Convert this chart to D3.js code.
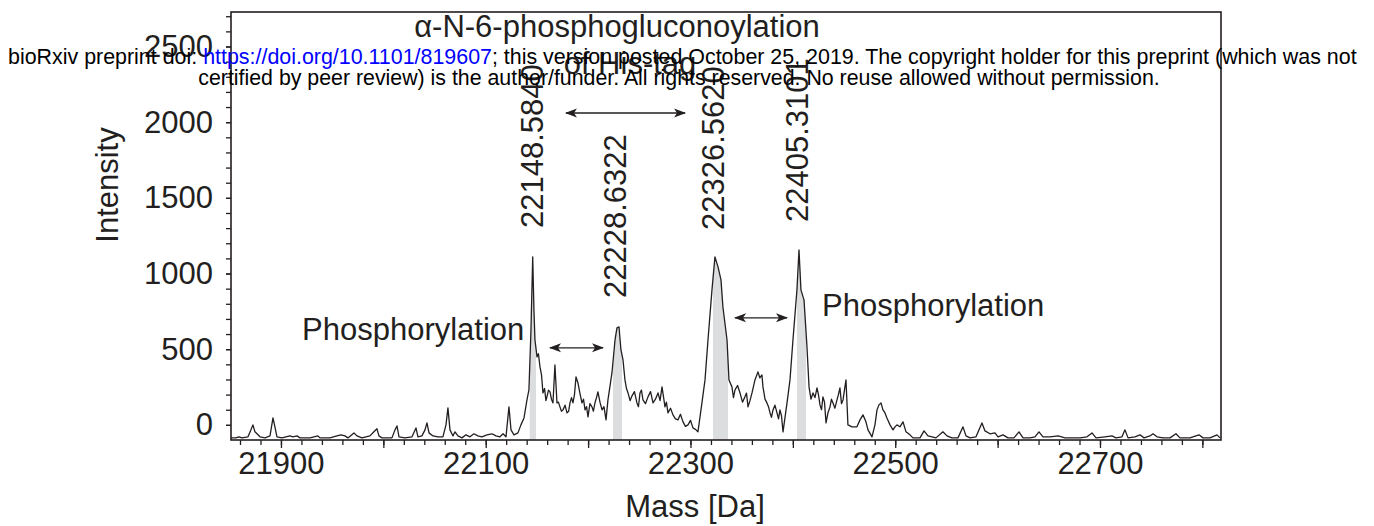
<!DOCTYPE html>
<html><head><meta charset="utf-8">
<script src="https://cdn.jsdelivr.net/npm/d3@7"></script>
<style>body{margin:0;background:#fff;} svg{display:block;font-family:"Liberation Sans",Arial,Helvetica,sans-serif;}</style>
</head><body><svg id="c" width="1374" height="526"></svg>
<script>
// ---- data ----
const massDa = [
21851.2,21856.0,21859.0,21861.9,21867.8,21870.7,21872.6,21874.6,21876.6,21879.5,
21884.4,21889.3,21892.2,21894.1,21896.1,21901.0,21908.8,21911.7,21915.6,21918.6,
21928.3,21936.1,21938.1,21947.9,21954.7,21958.6,21962.5,21965.4,21971.3,21974.2,
21979.1,21986.9,21990.8,21993.8,21995.7,21998.7,22008.4,22011.4,22013.3,22015.3,
22021.1,22028.0,22031.9,22033.8,22037.7,22040.7,22042.6,22044.6,22048.5,22053.4,
22058.2,22061.2,22063.1,22065.1,22068.0,22070.0,22072.9,22076.8,22080.7,22084.6,
22088.5,22092.4,22096.3,22101.2,22106.1,22110.0,22113.9,22116.9,22119.8,22122.7,
22124.7,22127.6,22131.5,22134.4,22137.4,22140.3,22142.2,22144.2,22145.9,22147.1,
22148.1,22150.1,22151.5,22153.0,22154.5,22155.9,22157.5,22158.8,22159.8,22161.3,
22162.8,22164.2,22165.7,22167.6,22169.6,22171.0,22172.5,22174.0,22175.5,22177.5,
22179.4,22181.0,22182.3,22183.8,22185.2,22186.7,22188.2,22190.1,22192.0,22194.0,
22195.5,22197.0,22198.5,22199.9,22201.8,22203.8,22205.2,22206.7,22208.2,22209.6,
22211.6,22213.6,22215.5,22217.5,22219.4,22223.3,22226.3,22228.2,22230.2,22232.1,
22234.1,22236.0,22237.5,22239.0,22241.0,22242.9,22245.3,22247.7,22249.2,22250.7,
22252.1,22253.6,22256.0,22258.5,22261.0,22263.4,22265.8,22268.3,22270.3,22272.2,
22275.1,22276.5,22278.0,22280.5,22282.9,22285.3,22287.8,22290.2,22292.7,22295.1,
22297.6,22300.0,22302.4,22304.9,22307.3,22311.2,22314.2,22317.1,22321.0,22323.9,
22326.9,22329.8,22331.7,22335.7,22337.6,22340.5,22342.0,22343.5,22346.0,22348.4,
22350.8,22353.2,22354.7,22356.2,22358.1,22360.1,22363.0,22365.9,22367.8,22369.8,
22370.8,22372.8,22374.7,22376.2,22377.7,22379.1,22380.6,22382.5,22384.5,22386.0,
22387.4,22388.9,22390.4,22394.3,22397.2,22400.1,22404.0,22406.0,22407.9,22410.9,
22413.8,22415.8,22417.7,22419.7,22421.6,22423.6,22425.0,22426.5,22428.0,22429.4,
22430.9,22432.4,22434.3,22436.3,22437.7,22439.2,22441.1,22443.1,22444.5,22446.0,
22447.5,22449.0,22450.4,22451.9,22453.8,22457.8,22462.6,22465.6,22468.5,22471.4,
22473.4,22477.3,22480.2,22482.2,22484.1,22486.1,22488.0,22490.0,22491.9,22494.9,
22497.8,22499.8,22501.7,22504.6,22507.6,22510.5,22514.4,22517.3,22524.2,22528.1,
22532.0,22535.9,22539.8,22546.6,22550.5,22555.4,22561.3,22566.2,22569.1,22573.0,
22578.9,22584.7,22587.7,22592.6,22597.4,22600.4,22605.3,22610.1,22616.0,22620.9,
22624.8,22631.6,22636.5,22640.4,22644.3,22651.2,22659.0,22665.8,22680.5,22687.3,
22692.2,22696.1,22704.9,22711.7,22715.6,22721.5,22724.4,22727.4,22734.2,22739.1,
22743.0,22748.8,22751.8,22755.7,22761.5,22768.4,22774.2,22778.1,22787.9,22796.7,
22800.6,22807.5,22814.3,22817.2];
const intensity = [
-86,-86,-79,-86,-79,-33,0,-46,-59,-79,
-86,-73,46,-13,-79,-86,-73,-79,-73,-86,
-86,-73,-86,-86,-73,-66,-73,-86,-53,-73,
-86,-73,-46,-26,-73,-86,-86,-33,-7,-79,
-86,-79,-20,-79,-73,-33,13,-53,-73,-79,
-79,0,112,-33,-73,-46,-73,-86,-66,-79,
-59,-73,-79,-66,-59,-73,-79,-59,-79,119,
-33,-66,-53,0,46,165,231,627,1110,760,
561,449,470,383,330,211,240,160,185,230,
218,170,145,396,145,150,119,90,99,130,
79,90,145,180,145,200,317,277,210,145,
170,99,120,53,140,119,90,145,180,218,
150,99,120,33,165,343,561,641,647,495,
429,297,240,211,160,192,220,145,120,211,
230,165,140,185,220,145,170,211,160,251,
119,150,79,110,66,40,33,70,20,-10,
0,30,-20,-30,-46,145,297,561,892,1110,
1044,958,779,561,297,251,180,231,260,211,
150,185,210,119,160,211,297,350,310,330,
251,170,145,120,79,50,99,130,79,40,
99,60,-46,145,297,561,892,1156,892,826,
515,251,170,211,180,244,200,132,100,185,
150,13,80,119,170,145,110,165,200,244,
140,165,230,297,0,-13,-13,33,66,20,
-33,-79,0,99,132,145,99,79,46,0,
-33,-13,0,-13,20,-46,-66,-86,-86,-40,
-73,-79,-86,-46,-73,-86,-86,-13,-73,-86,
-79,13,-40,-59,-53,-79,-66,-86,-86,-46,
-86,-86,-79,-46,-79,-79,-73,-86,-86,-79,
-53,-86,-79,-73,-86,-79,-33,-86,-79,-66,
-86,-73,-59,-79,-86,-86,-59,-86,-86,-66,
-86,-86,-66,-86];

const peakLabels = ["22148.5840","22228.6322","22326.5620","22405.3101"];
const peakMasses = [22148.5840,22228.6322,22326.5620,22405.3101];
const bandStart = [22143.0,22224.3,22322.0,22404.0];
const bandEnd   = [22149.1,22233.1,22336.6,22412.8];
const xTickValues = [21900,22100,22300,22500,22700];
const yTickValues = [0,500,1000,1500,2000,2500];
const arrowFrom = [[22178.4,2061],[22162.8,509],[22343.5,707]];
const arrowTo   = [[22294.7,2061],[22214.6,509],[22394.3,707]];
const titleLines = ["α-N-6-phosphogluconoylation","of His-tag"];
const sideLabels = ["Phosphorylation","Phosphorylation"];
const headerLine1 = ["bioRxiv preprint doi: ","https://doi.org/10.1101/819607","; this version posted October 25, 2019. The copyright holder for this preprint (which was not"];
const headerLine2 = "certified by peer review) is the author/funder. All rights reserved. No reuse allowed without permission.";

// ---- drawing ----
const ink = "#231f20";
const FS = 31;
const data = massDa.map((m,i)=>({m, v:intensity[i]}));
const svg = d3.select("#c");
const L=231, T=12, R=1221, B=440;
const x = d3.scaleLinear().domain([21851.2,22818.2]).range([L,R]);
const y = d3.scaleLinear().domain([-100,2728]).range([B,T]);

const defs = svg.append("defs");
bandStart.forEach((s,i)=>{
  defs.append("clipPath").attr("id","band"+i).append("rect")
    .attr("x",x(s)).attr("y",T).attr("width",x(bandEnd[i])-x(s)).attr("height",B-T);
});
defs.append("marker").attr("id","ah").attr("viewBox","0 -5 12 10").attr("refX",11).attr("refY",0)
  .attr("markerWidth",12).attr("markerHeight",10).attr("markerUnits","userSpaceOnUse")
  .attr("orient","auto-start-reverse")
  .append("path").attr("d","M0,-4.5L12,0L0,4.5L3,0Z").attr("fill",ink);

const area = d3.area().x(d=>x(d.m)).y0(y(-100)).y1(d=>y(d.v));
bandStart.forEach((s,i)=>{
  svg.append("path").datum(data).attr("d",area).attr("fill","#dcdddf").attr("clip-path","url(#band"+i+")");
});
svg.append("path").datum(data).attr("d",d3.line().x(d=>x(d.m)).y(d=>y(d.v)))
  .attr("fill","none").attr("stroke",ink).attr("stroke-width",1.3).attr("stroke-linejoin","round");

// axes
function styleAxis(g){ g.select(".domain").remove(); g.selectAll("line").attr("stroke",ink).attr("stroke-width",1.3);
  g.selectAll("text").attr("fill",ink).style("font-size",FS+"px").style("font-family","'Liberation Sans',Arial,sans-serif"); }
svg.append("g").attr("transform",`translate(${L},0)`)
  .call(d3.axisLeft(y).tickValues(d3.range(0,2701,100)).tickSize(5).tickFormat("")).call(styleAxis);
const ya = svg.append("g").attr("transform",`translate(${L},0)`)
  .call(d3.axisLeft(y).tickValues(yTickValues).tickSize(5).tickPadding(13).tickFormat(d3.format("d"))).call(styleAxis);
ya.selectAll("text").attr("dy","0.32em");
svg.append("g").attr("transform",`translate(0,${B})`)
  .call(d3.axisBottom(x).tickValues(d3.range(21860,22820,20)).tickSize(5).tickFormat("")).call(styleAxis);
svg.append("g").attr("transform",`translate(0,${B})`)
  .call(d3.axisBottom(x).tickValues(d3.range(21900,22801,100)).tickSize(8).tickFormat("")).call(styleAxis);
svg.append("g").attr("transform",`translate(0,${B})`)
  .call(d3.axisBottom(x).tickValues(xTickValues).tickSize(0).tickPadding(12).tickFormat(d3.format("d"))).call(styleAxis);

// frame
svg.append("rect").attr("x",L).attr("y",T).attr("width",R-L).attr("height",B-T)
  .attr("fill","none").attr("stroke",ink).attr("stroke-width",1.6);

// axis titles
svg.append("text").attr("transform","translate(118,185) rotate(-90)").attr("text-anchor","middle")
  .attr("fill",ink).style("font-size",FS+"px").text("Intensity");
svg.append("text").attr("x",695).attr("y",517).attr("text-anchor","middle")
  .attr("fill",ink).style("font-size",FS+"px").text("Mass [Da]");

// peak labels
const labelBottom = [228,298,230,222];
const labelShift = [8,9,6,10];
peakLabels.forEach((t,i)=>{
  svg.append("text").attr("transform",`translate(${x(peakMasses[i])+labelShift[i]},${labelBottom[i]}) rotate(-90)`)
    .attr("fill",ink).style("font-size",FS+"px").text(t);
});

// title
svg.append("text").attr("x",617).attr("y",37).attr("text-anchor","middle").attr("fill",ink).style("font-size",FS+"px").text(titleLines[0]);
svg.append("text").attr("x",630).attr("y",74).attr("text-anchor","middle").attr("fill",ink).style("font-size",FS+"px").text(titleLines[1]);

// side labels
svg.append("text").attr("x",302).attr("y",340).attr("fill",ink).style("font-size",FS+"px").text(sideLabels[0]);
svg.append("text").attr("x",822).attr("y",316).attr("fill",ink).style("font-size",FS+"px").text(sideLabels[1]);

// arrows
arrowFrom.forEach((a,i)=>{
  svg.append("line").attr("x1",x(a[0])).attr("y1",y(a[1])).attr("x2",x(arrowTo[i][0])).attr("y2",y(arrowTo[i][1]))
    .attr("stroke",ink).attr("stroke-width",1.4)
    .attr("marker-start","url(#ah)").attr("marker-end","url(#ah)");
});

// bioRxiv header
const h1 = svg.append("text").attr("x",8).attr("y",64).style("font-size","17px");
h1.append("tspan").attr("fill","#000").text(headerLine1[0]);
h1.append("tspan").attr("fill","#0000ff").text(headerLine1[1]);
h1.append("tspan").attr("fill","#000").text(headerLine1[2]);
let w1 = h1.node().getComputedTextLength();
h1.style("font-size",(17*1349/w1)+"px");
const h2 = svg.append("text").attr("x",679).attr("y",85).attr("text-anchor","middle").attr("fill","#000").style("font-size","17px").text(headerLine2);
let w2 = h2.node().getComputedTextLength();
h2.style("font-size",(17*962/w2)+"px");
</script></body></html>
